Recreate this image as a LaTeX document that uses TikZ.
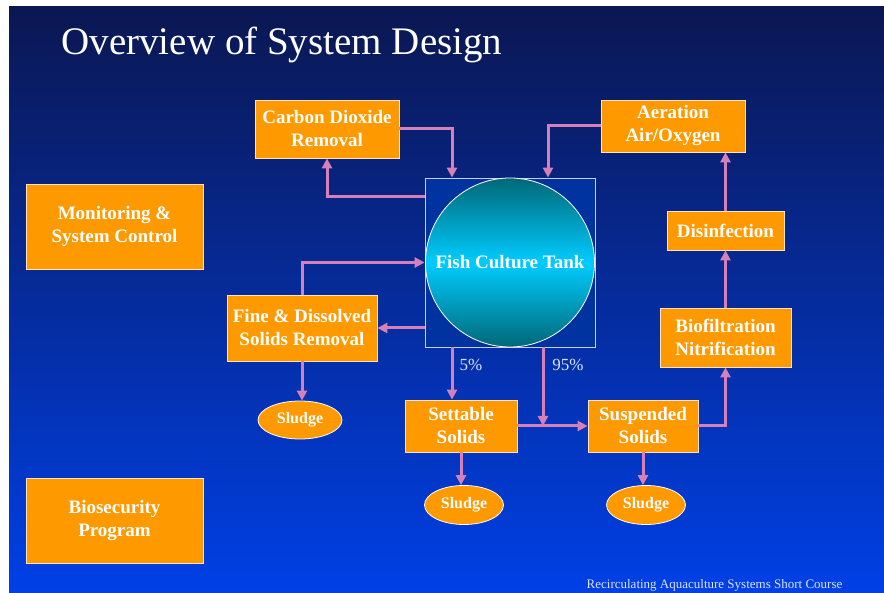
\documentclass[tikz,border=0pt]{standalone}
\usepackage{fontspec}
\setmainfont{Liberation Serif}
\usepackage{xcolor}
\usepackage{tikz}
\usetikzlibrary{calc,arrows.meta,shapes.geometric}
\definecolor{bgtop}{HTML}{0B1752}
\definecolor{bgbot}{HTML}{0040E6}
\definecolor{boxorange}{HTML}{FF9900}
\definecolor{boxedge}{HTML}{FFE2C0}
\definecolor{flowpink}{HTML}{D580B8}
\definecolor{tankblue}{HTML}{0033A0}
\definecolor{tankedge}{HTML}{C8D0E8}
\definecolor{teal}{HTML}{006878}
\definecolor{cyanw}{HTML}{00CCFF}
\definecolor{pcttext}{HTML}{DDE2FF}
\tikzset{
  box/.style={rectangle, fill=boxorange, draw=boxedge, line width=0.8pt, text=white,
    font=\fontsize{19}{23}\selectfont\bfseries, align=center, inner sep=0pt},
  sludge/.style={ellipse, fill=boxorange, draw=white, line width=0.8pt, text=white,
    font=\fontsize{16}{18}\selectfont\bfseries, minimum width=84pt, minimum height=38pt, inner sep=0pt},
  tankbox/.style={rectangle, fill=tankblue, draw=tankedge, line width=0.8pt,
    minimum width=170pt, minimum height=169pt, inner sep=0pt},
  tankcircle/.style={circle, draw=white, line width=0.8pt, top color=teal, bottom color=teal,
    middle color=cyanw, minimum size=169pt, inner sep=0pt, text=white,
    font=\fontsize{19}{22}\selectfont\bfseries},
  flow/.style={draw=flowpink, line width=3pt, -{Triangle[length=10pt,width=10pt]}},
  pct/.style={text=pcttext, font=\fontsize{17}{20}\selectfont},
  title/.style={text=white, font=\fontsize{39}{44}\selectfont, anchor=base west},
  footer/.style={text=pcttext, font=\fontsize{13}{15}\selectfont}
}

\begin{document}
\begin{tikzpicture}[x=1pt, y=-1pt]
  \useasboundingbox (0,0) rectangle (884,593);
  \shade[top color=bgtop, bottom color=bgbot] (9,7) rectangle (884,593);

  \node[title] (head) at (58,55) {Overview of System Design};

  \node[box, minimum width=144pt, minimum height=58pt] (co2) at (327,129) {Carbon Dioxide\\Removal};
  \node[box, minimum width=144pt, minimum height=52pt] (aer) at (673,126) {Aeration\\Air/Oxygen};
  \node[box, minimum width=177pt, minimum height=85pt] (mon) at (114.5,226.5) {Monitoring \&\\System Control};
  \node[box, minimum width=177pt, minimum height=85pt] (bio) at (114.5,520.5) {Biosecurity\\Program};

  \node[tankbox] (tank) at (510,262.5) {};
  \node[tankcircle] (tankc) at (tank.center) {Fish Culture Tank};

  \node[box, minimum width=117pt, minimum height=39pt] (dis) at (725.5,230.5) {Disinfection};
  \node[box, minimum width=131pt, minimum height=59pt] (nit) at (725.5,337.5) {Biofiltration\\Nitrification};
  \node[box, minimum width=150pt, minimum height=66pt] (fine) at (302,328) {Fine \& Dissolved\\Solids Removal};
  \node[box, minimum width=112pt, minimum height=52pt] (set) at (461,426) {Settable\\Solids};
  \node[box, minimum width=110pt, minimum height=52pt] (sus) at (643,426) {Suspended\\Solids};

  \node[sludge] (sl1) at (300,420) {Sludge};
  \node[sludge, minimum width=79pt, minimum height=39pt] (sl2) at (464,505) {Sludge};
  \node[sludge, minimum width=79pt, minimum height=39pt] (sl3) at (646,505) {Sludge};

  \node[pct] (p5) at (471,365) {5\%};
  \node[pct] (p95) at (568,365) {95\%};

  \node[footer] (foot) at (714.5,585) {Recirculating Aquaculture Systems Short Course};

  % flows round the tank
  \draw[flow] (co2.east) -| ([xshift=-58pt]tank.north);
  \draw[flow] ([yshift=65.5pt]tank.west) -| (co2.south);
  \draw[flow] (aer.west) -| ([xshift=38pt]tank.north);
  \draw[flow] (fine.north) |- (tank.west);
  \draw[flow] (tank.west |- fine.east) -- (fine.east);
  \draw[flow] (fine.south) -- (fine.south |- sl1.north);

  % solids line
  \draw[flow] ([xshift=-58pt]tank.south) -- ([xshift=-58pt]tank.south |- set.north);
  \draw[flow] ([xshift=33pt]tank.south) -- ([xshift=33pt]tank.south |- set.east);
  \draw[flow] (set.east) -- (sus.west);
  \draw[flow] (sus.east) -| (nit.south);
  \draw[flow] (nit.north) -- (dis.south);
  \draw[flow] (dis.north) -- (dis.north |- aer.south);
  \draw[flow] (set.south) -- (set.south |- sl2.north);
  \draw[flow] (sus.south) -- (sus.south |- sl3.north);
\end{tikzpicture}
\end{document}
